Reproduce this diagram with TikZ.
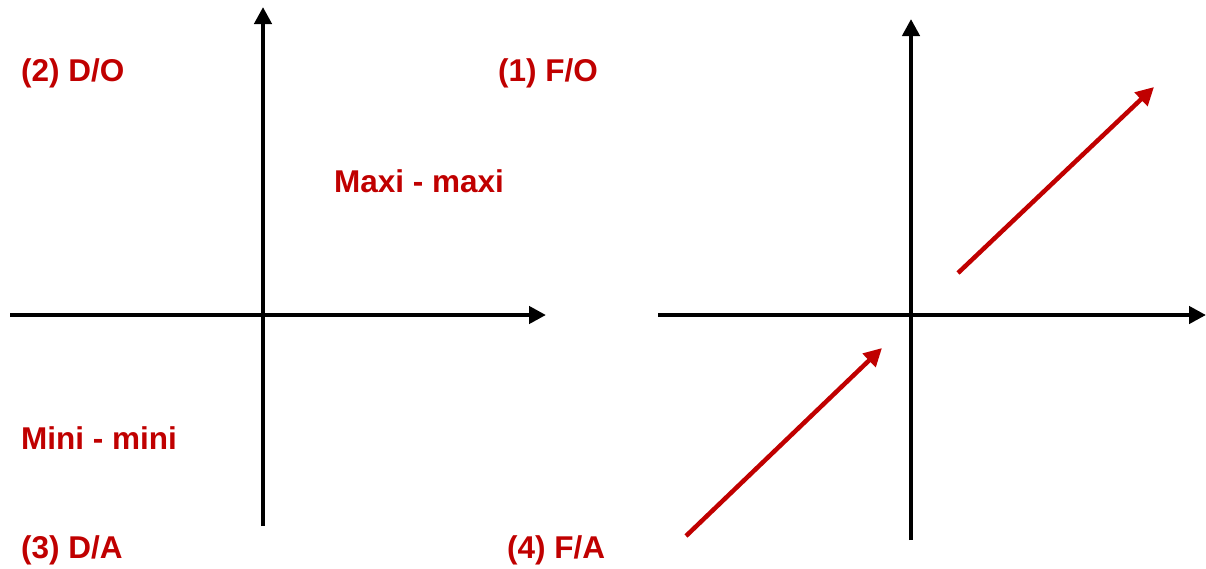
\documentclass[tikz,border=0pt]{standalone}
\usepackage{fontspec}
\setmainfont{Liberation Sans}
\usetikzlibrary{arrows.meta}
\definecolor{dred}{HTML}{C00000}
\begin{document}
\begin{tikzpicture}[x=1pt,y=-1pt,
  axis/.style={line width=4.5pt,-{Triangle[length=17pt,width=17pt]}},
  redarrow/.style={dred,line width=4.5pt,-{Triangle[length=18pt,width=18pt]}},
  lab/.style={text=dred,font=\fontsize{31.5}{36}\selectfont\bfseries,inner sep=0pt,anchor=west}]
\useasboundingbox (0,0) rectangle (1206,568);
% left axes
\coordinate (lxs) at (10,315);
\coordinate (lxe) at (546,315);
\coordinate (lys) at (263,526);
\coordinate (lye) at (263,7);
\draw[axis] (lxs) -- (lxe);
\draw[axis] (lys) -- (lye);
% right axes
\coordinate (rxs) at (658,315);
\coordinate (rxe) at (1206,315);
\coordinate (rys) at (911,540);
\coordinate (rye) at (911,19);
\draw[axis] (rxs) -- (rxe);
\draw[axis] (rys) -- (rye);
% red arrows
\coordinate (a1s) at (958,273);
\coordinate (a1e) at (1154,87);
\coordinate (a2s) at (686,536);
\coordinate (a2e) at (882,348);
\draw[redarrow] (a1s) -- (a1e);
\draw[redarrow] (a2s) -- (a2e);
% labels
\node[lab] (q2) at (21,73) {(2) D/O};
\node[lab] (q1) at (498,73) {(1) F/O};
\node[lab] (mm) at (334,181) {Maxi - maxi};
\node[lab] (mn) at (21,438) {Mini - mini};
\node[lab] (q3) at (21,550) {(3) D/A};
\node[lab] (q4) at (507,550) {(4) F/A};
\end{tikzpicture}
\end{document}
